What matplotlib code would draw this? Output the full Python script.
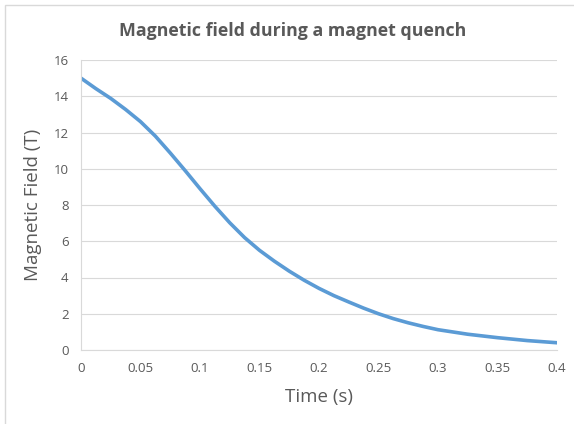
import matplotlib
matplotlib.use("Agg")
import matplotlib.pyplot as plt
from matplotlib.patches import Rectangle

# values
time_s = [0.0, 0.0125, 0.025, 0.0375, 0.05, 0.0625, 0.075, 0.0875, 0.1, 0.1125,
          0.125, 0.1375, 0.15, 0.1625, 0.175, 0.1875, 0.2, 0.2125, 0.225, 0.2375,
          0.25, 0.2625, 0.275, 0.2875, 0.3, 0.325, 0.35, 0.375, 0.4]
field_t = [15.0, 14.42, 13.88, 13.27, 12.6, 11.8, 10.87, 9.9, 8.9, 7.93,
           7.02, 6.2, 5.5, 4.9, 4.35, 3.85, 3.4, 3.0, 2.65, 2.31,
           2.0, 1.73, 1.5, 1.3, 1.12, 0.87, 0.68, 0.52, 0.4]

x_ticks = [0, 0.05, 0.1, 0.15, 0.2, 0.25, 0.3, 0.35, 0.4]
x_labels = ["0", "0.05", "0.1", "0.15", "0.2", "0.25", "0.3", "0.35", "0.4"]
y_ticks = [0, 2, 4, 6, 8, 10, 12, 14, 16]

TEXT = "#595959"
GRID = "#D9D9D9"
W, H = 574, 424

plt.rcParams["font.family"] = ["Open Sans", "DejaVu Sans"]

fig = plt.figure(figsize=(W / 100, H / 100), dpi=100)
fig.patches.append(Rectangle((5 / W, 0 - 0.05), 1.1, 1 - 5.5 / H + 0.05,
                             transform=fig.transFigure, fill=False,
                             edgecolor=GRID, linewidth=1.0))

ax = fig.add_axes([81 / W, 74 / H, 476 / W, 290 / H])
ax.plot(time_s, field_t, color="#5B9BD5", linewidth=2.6, solid_capstyle="round")

ax.set_xlim(0, 0.4)
ax.set_ylim(0, 16)
ax.set_xticks(x_ticks)
ax.set_xticklabels(x_labels)
ax.set_yticks(y_ticks)
ax.grid(True, axis="y", color=GRID, linewidth=0.8)
ax.set_axisbelow(True)
for side in ("top", "right"):
    ax.spines[side].set_visible(False)
for side in ("left", "bottom"):
    ax.spines[side].set_color(GRID)
    ax.spines[side].set_linewidth(0.8)
ax.tick_params(length=0, labelsize=9.5, labelcolor=TEXT)
ax.tick_params(axis="x", pad=9)
ax.tick_params(axis="y", pad=9)

ax.set_xlabel("Time (s)", fontsize=13.5, color=TEXT, labelpad=9)
ax.set_ylabel("Magnetic Field (T)", fontsize=13.5, color=TEXT, labelpad=8)

fig.text(293 / W, 1 - 31 / H, "Magnetic field during a magnet quench",
         ha="center", va="center", fontsize=12.8, fontweight="bold", color=TEXT)

fig.savefig("out.png", dpi=100)
